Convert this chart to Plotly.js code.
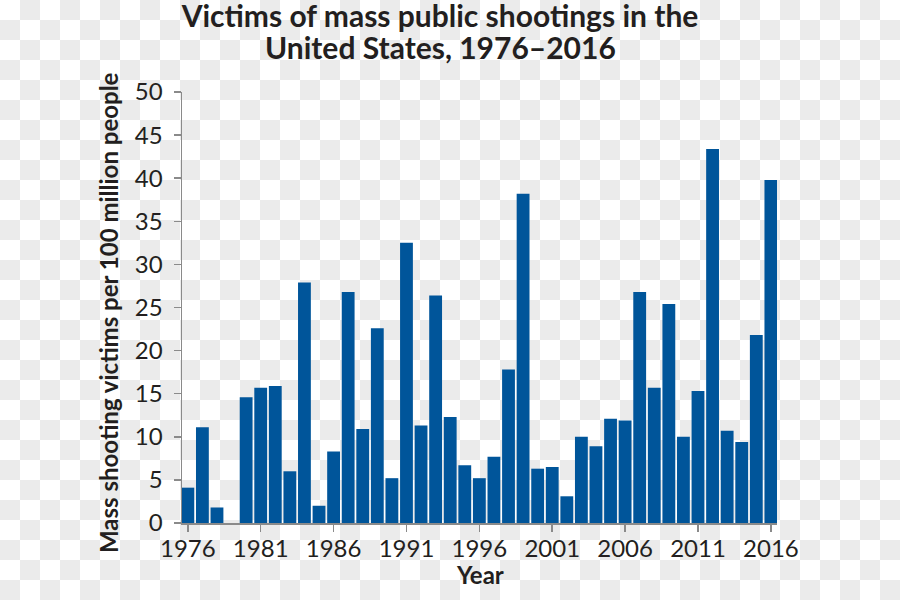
<!DOCTYPE html>
<html>
<head>
<meta charset="utf-8">
<script src="https://cdn.plot.ly/plotly-3.0.1.min.js"></script>
<style>
  html, body { margin: 0; padding: 0; }
  body {
    width: 900px; height: 600px;
    background: repeating-conic-gradient(#ebebeb 0 25%, #ffffff 0 50%) 0 0 / 40px 40px;
  }
  #chart { width: 900px; height: 600px; }
</style>
</head>
<body>
<div id="chart"></div>
<script>
const years = [1976, 1977, 1978, 1979, 1980, 1981, 1982, 1983, 1984, 1985,
               1986, 1987, 1988, 1989, 1990, 1991, 1992, 1993, 1994, 1995,
               1996, 1997, 1998, 1999, 2000, 2001, 2002, 2003, 2004, 2005,
               2006, 2007, 2008, 2009, 2010, 2011, 2012, 2013, 2014, 2015,
               2016];
const victimsPer100M = [4.1, 11.1, 1.8, 0, 14.6, 15.7, 15.9, 6.0, 27.9, 2.0,
                        8.3, 26.8, 10.9, 22.6, 5.2, 32.5, 11.3, 26.4, 12.3, 6.7,
                        5.2, 7.7, 17.8, 38.2, 6.3, 6.5, 3.1, 10.0, 8.9, 12.1,
                        11.9, 26.8, 15.7, 25.4, 10.0, 15.3, 43.4, 10.7, 9.4, 21.8,
                        39.8];
const xTickVals = [1976, 1981, 1986, 1991, 1996, 2001, 2006, 2011, 2016];
const xTickText = ['1976', '1981', '1986', '1991', '1996', '2001', '2006', '2011', '2016'];
const titleLine1 = 'Victims of mass public shootings in the';
const titleLine2 = 'United States, 1976–2016';
const xTitle = 'Year';
const yTitle = 'Mass shooting victims per 100 million people';

const textColor = '#231f20';
const axisColor = '#8a8a8a';
const barColor = '#00559a';
const fam = 'Lato, sans-serif';

// plot area in pixels (used only to place titles)
const M = { l: 182, r: 123, t: 92, b: 77 };
const PW = 900 - M.l - M.r;
const PH = 600 - M.t - M.b;
const px2x = (px) => (px - M.l) / PW;
const py2y = (py) => (600 - M.b - py) / PH;

const trace = {
  type: 'bar',
  x: years,
  y: victimsPer100M,
  marker: { color: barColor, line: { width: 0 } },
  hoverinfo: 'x+y'
};

const boldFont = { family: fam, size: 24, weight: 700, color: textColor };

const layout = {
  width: 900,
  height: 600,
  margin: { l: M.l, r: M.r, t: M.t, b: M.b, pad: 0 },
  paper_bgcolor: 'rgba(0,0,0,0)',
  plot_bgcolor: 'rgba(0,0,0,0)',
  bargap: 0.12,
  showlegend: false,
  font: { family: fam, color: textColor },
  title: {
    text: titleLine1,
    x: 440 / 900, xanchor: 'center', xref: 'container',
    y: 1 - 16 / 600, yanchor: 'middle', yref: 'container',
    font: { family: fam, size: 30, weight: 700, color: textColor }
  },
  annotations: [
    {
      text: titleLine2,
      xref: 'paper', yref: 'paper',
      x: px2x(440), xanchor: 'center',
      y: py2y(47), yanchor: 'middle',
      showarrow: false,
      font: { family: fam, size: 30, weight: 700, color: textColor }
    },
    {
      text: yTitle,
      xref: 'paper', yref: 'paper',
      x: px2x(108), xanchor: 'center',
      y: py2y(313), yanchor: 'middle',
      textangle: -90,
      showarrow: false,
      font: boldFont
    },
    {
      text: xTitle,
      xref: 'paper', yref: 'paper',
      x: px2x(480), xanchor: 'center',
      y: py2y(574), yanchor: 'middle',
      showarrow: false,
      font: boldFont
    }
  ],
  xaxis: {
    range: [1975.6, 2016.42],
    tickmode: 'array',
    tickvals: xTickVals,
    ticktext: xTickText,
    ticks: 'outside', ticklen: 7, tickwidth: 1.5, tickcolor: axisColor,
    showline: true, linecolor: axisColor, linewidth: 1.5,
    showgrid: false, zeroline: false,
    ticklabelstandoff: -3,
    tickfont: { family: fam, size: 24, color: textColor }
  },
  yaxis: {
    range: [0, 50],
    tickmode: 'linear', tick0: 0, dtick: 5,
    ticks: 'outside', ticklen: 7, tickwidth: 1.5, tickcolor: axisColor,
    showline: true, linecolor: axisColor, linewidth: 1.5,
    showgrid: false, zeroline: false,
    ticklabelstandoff: 6,
    tickfont: { family: fam, size: 24, color: textColor }
  }
};

Plotly.newPlot('chart', [trace], layout, { displayModeBar: false, staticPlot: true });
</script>
</body>
</html>
